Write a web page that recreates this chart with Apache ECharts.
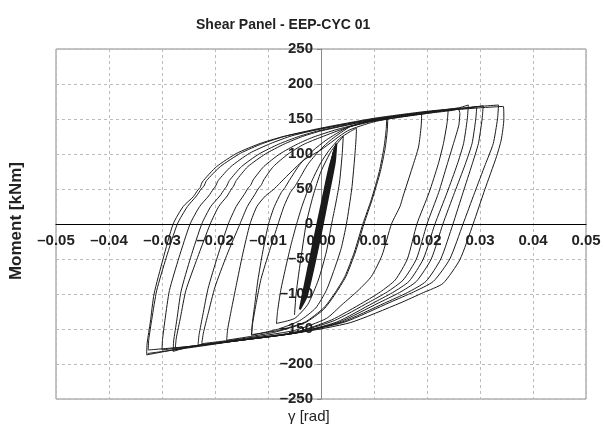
<!DOCTYPE html>
<html>
<head>
<meta charset="utf-8">
<title>Shear Panel - EEP-CYC 01</title>
<script src="https://cdn.jsdelivr.net/npm/echarts@6/dist/echarts.min.js"></script>
<style>
    html, body { margin: 0; padding: 0; background: #fff; }
    #chart { width: 604px; height: 432px; }
</style>
</head>
<body>
<div id="chart"></div>
<script>
// gamma [rad], moment [kNm], one array per cycle
const elastic1 = [[-0.0030,-100],[-0.0018,-55],[-0.0006,-12],[0.0006,35],[0.0017,75],[0.0024,102],[0.0020,80],[0.0009,38],[-0.0003,-10],[-0.0015,-55],[-0.0027,-98],[-0.0030,-100]]
const elastic2 = [[-0.0036,-112],[-0.0022,-62],[-0.0010,-18],[0.0003,30],[0.0016,78],[0.0027,110],[0.0023,82],[0.0012,40],[0.0000,-8],[-0.0013,-55],[-0.0028,-100],[-0.0036,-112]]
const elastic3 = [[-0.0040,-122],[-0.0026,-70],[-0.0013,-22],[0.0001,28],[0.0015,78],[0.0029,115],[0.0026,88],[0.0015,45],[0.0002,-5],[-0.0011,-52],[-0.0027,-103],[-0.0040,-122]]
const elastic4 = [[-0.0033,-106],[-0.0021,-60],[-0.0009,-16],[0.0004,32],[0.0014,68],[0.0025,106],[0.0018,70],[0.0007,30],[-0.0005,-14],[-0.0018,-62],[-0.0029,-100],[-0.0033,-106]]
const cycle01 = [[-0.0050,-130],[-0.0047,-100],[-0.0040,-60],[-0.0028,0],[-0.0015,40],[0.0000,75],[0.0020,105],[0.0042,125],
    [0.0040,100],[0.0035,60],[0.0028,30],[0.0020,0],[0.0010,-40],[-0.0005,-80],[-0.0025,-115],[-0.0050,-135],[-0.0084,-142]]
const cycle02 = [[-0.0084,-142],[-0.0082,-125],[-0.0076,-95],[-0.0066,-60],[-0.0056,-28],[-0.0046,0],[-0.0036,25],[-0.0025,48],[-0.0012,70],[0.0000,88],[0.0015,105],[0.0035,122],[0.0055,132],[0.0067,137],
    [0.0066,120],[0.0063,90],[0.0058,50],[0.0048,0],[0.0038,-35],[0.0025,-65],[0.0010,-95],[-0.0010,-120],[-0.0040,-138],[-0.0080,-150],[-0.0131,-159]]
const cycle03 = [[-0.0131,-159],[-0.0130,-145],[-0.0125,-115],[-0.0119,-80],[-0.0110,-40],[-0.0099,0],[-0.0088,25],[-0.0075,45],[-0.0068,52],[-0.0060,62],[-0.0040,85],[-0.0015,105],[0.0010,120],[0.0050,138],[0.0090,146],[0.0124,151],
    [0.0123,135],[0.0119,110],[0.0110,75],[0.0095,35],[0.0079,0],[0.0063,-40],[0.0045,-75],[0.0025,-100],[0.0005,-120],[-0.0030,-140],[-0.0080,-152],[-0.0131,-158]]
const cycle04 = [[-0.0131,-158],[-0.0129,-142],[-0.0122,-112],[-0.0113,-78],[-0.0097,-38],[-0.0081,0],[-0.0070,25],[-0.0058,45],[-0.0050,53],[-0.0042,63],[-0.0025,85],[-0.0003,105],[0.0020,121],[0.0055,139],[0.0092,147],[0.0126,150],
    [0.0125,133],[0.0121,108],[0.0112,75],[0.0097,36],[0.0081,0],[0.0065,-40],[0.0047,-75],[0.0027,-100],[0.0005,-122],[-0.0030,-141],[-0.0090,-155],[-0.0178,-166]]
const cycle05 = [[-0.0178,-166],[-0.0176,-150],[-0.0169,-122],[-0.0160,-88],[-0.0148,-44],[-0.0134,0],[-0.0121,25],[-0.0105,40],[-0.0090,49],[-0.0078,58],[-0.0065,68],[-0.0033,91],[0.0000,106],[0.0050,133],[0.0100,146],[0.0150,153],[0.0190,158],
    [0.0189,140],[0.0184,110],[0.0172,80],[0.0155,40],[0.0149,25],[0.0133,0],[0.0115,-45],[0.0095,-75],[0.0070,-95],[0.0040,-115],[0.0010,-135],[-0.0050,-152],[-0.0150,-164],[-0.0225,-171]]
const cycle06 = [[-0.0225,-171],[-0.0222,-156],[-0.0213,-128],[-0.0200,-90],[-0.0178,-45],[-0.0153,0],[-0.0139,25],[-0.0125,42],[-0.0117,52],[-0.0113,55],[-0.0108,63],[-0.0090,82],[-0.0062,100],[-0.0032,114],[0.0000,124],[0.0050,138],[0.0100,147],[0.0200,158],[0.0240,163],
    [0.0238,145],[0.0231,115],[0.0221,85],[0.0204,45],[0.0181,0],[0.0163,-50],[0.0140,-80],[0.0112,-97],[0.0080,-112],[0.0020,-137],[-0.0050,-155],[-0.0150,-165],[-0.0232,-173]]
const cycle07 = [[-0.0232,-173],[-0.0230,-158],[-0.0223,-130],[-0.0213,-92],[-0.0195,-46],[-0.0175,0],[-0.0160,25],[-0.0145,42],[-0.0137,52],[-0.0133,55],[-0.0128,63],[-0.0108,82],[-0.0078,100],[-0.0045,114],[-0.0015,124],[0.0030,135],[0.0100,148],[0.0200,158],[0.0245,162],[0.0259,164],
    [0.0262,158],[0.0260,141],[0.0250,115],[0.0238,85],[0.0222,45],[0.0200,0],[0.0180,-50],[0.0155,-80],[0.0125,-97],[0.0090,-112],[0.0025,-138],[-0.0050,-155],[-0.0150,-165],[-0.0275,-178]]
const cycle08 = [[-0.0275,-178],[-0.0273,-163],[-0.0265,-133],[-0.0255,-95],[-0.0233,-48],[-0.0209,0],[-0.0193,25],[-0.0177,40],[-0.0169,50],[-0.0165,54],[-0.0160,62],[-0.0138,82],[-0.0105,100],[-0.0070,114],[-0.0035,125],[0.0000,133],[0.0100,149],[0.0200,160],[0.0260,166],[0.0278,170],
    [0.0276,150],[0.0269,115],[0.0257,85],[0.0238,45],[0.0215,0],[0.0193,-50],[0.0166,-82],[0.0135,-98],[0.0098,-113],[0.0030,-140],[-0.0050,-156],[-0.0150,-166],[-0.0250,-176],[-0.0279,-182]]
const cycle09 = [[-0.0279,-182],[-0.0278,-167],[-0.0272,-137],[-0.0264,-96],[-0.0246,-48],[-0.0225,0],[-0.0208,25],[-0.0191,40],[-0.0182,50],[-0.0178,54],[-0.0173,62],[-0.0150,82],[-0.0117,100],[-0.0080,114],[-0.0042,125],[0.0000,134],[0.0100,149],[0.0200,159],[0.0270,165],[0.0294,168],
    [0.0292,150],[0.0285,115],[0.0272,85],[0.0252,45],[0.0230,0],[0.0208,-50],[0.0180,-82],[0.0148,-98],[0.0108,-113],[0.0035,-140],[-0.0050,-156],[-0.0150,-166],[-0.0250,-175],[-0.0300,-180]]
const cycle10 = [[-0.0300,-180],[-0.0299,-165],[-0.0294,-135],[-0.0286,-95],[-0.0268,-48],[-0.0247,0],[-0.0229,25],[-0.0212,40],[-0.0203,50],[-0.0199,54],[-0.0194,62],[-0.0170,82],[-0.0135,101],[-0.0095,115],[-0.0055,126],[0.0000,136],[0.0100,150],[0.0200,160],[0.0280,166],[0.0306,169],
    [0.0304,150],[0.0297,115],[0.0285,85],[0.0268,45],[0.0249,0],[0.0226,-50],[0.0198,-82],[0.0163,-98],[0.0120,-113],[0.0040,-140],[-0.0050,-156],[-0.0150,-166],[-0.0250,-175],[-0.0326,-180]]
const cycle11 = [[-0.0326,-180],[-0.0325,-165],[-0.0319,-135],[-0.0310,-95],[-0.0292,-48],[-0.0271,0],[-0.0252,25],[-0.0235,40],[-0.0226,50],[-0.0221,54],[-0.0216,62],[-0.0190,82],[-0.0152,101],[-0.0110,115],[-0.0065,126],[0.0000,137],[0.0100,151],[0.0200,161],[0.0300,168],[0.0335,170],
    [0.0333,150],[0.0325,115],[0.0310,85],[0.0290,45],[0.0268,0],[0.0243,-50],[0.0212,-82],[0.0175,-97],[0.0130,-112],[0.0045,-140],[-0.0050,-156],[-0.0150,-166],[-0.0250,-176],[-0.0329,-187]]
const cycle12 = [[-0.0329,-187],[-0.0328,-170],[-0.0322,-140],[-0.0315,-100],[-0.0298,-50],[-0.0279,0],[-0.0260,25],[-0.0241,39],[-0.0232,49],[-0.0228,52],[-0.0224,60],[-0.0197,82],[-0.0159,101],[-0.0115,115],[-0.0071,125],[0.0000,136],[0.0100,150],[0.0200,160],[0.0300,166],[0.0344,168],
    [0.0345,150],[0.0340,120],[0.0331,96],[0.0309,49],[0.0287,0],[0.0262,-51],[0.0230,-85],[0.0193,-98],[0.0149,-113],[0.0055,-141],[-0.0040,-155],[-0.0150,-166],[-0.0250,-177],[-0.0327,-185]]

const elastic = [elastic1, elastic2, elastic3, elastic4]
const cycles = [cycle01, cycle02, cycle03, cycle04, cycle05, cycle06, cycle07, cycle08, cycle09, cycle10, cycle11, cycle12]

const font = "'Liberation Sans', Arial, sans-serif"
const dash = v => (v < 0 ? '\u2013' : '')

const chart = echarts.init(document.getElementById('chart'))
chart.setOption({
    animation: false,
    title: {
        text: 'Shear Panel - EEP-CYC 01',
        left: 191,
        top: 13,
        textStyle: { fontFamily: font, fontSize: 14, fontWeight: 'bold', color: '#222' }
    },
    graphic: [
        {
            type: 'text', left: 8, top: 162, rotation: Math.PI / 2,
            style: { text: 'Moment [kNm]', font: 'bold 17px ' + font, fill: '#222' }
        },
        {
            type: 'text', left: 288, top: 409,
            style: { text: '\u03b3 [rad]', font: '15px ' + font, fill: '#222' }
        }
    ],
    grid: { left: 56, right: 18, top: 49, bottom: 33, show: true, borderColor: '#888', borderWidth: 1 },
    xAxis: {
        type: 'value', min: -0.05, max: 0.05, interval: 0.01,
        axisLine: { onZero: false, lineStyle: { color: '#000', width: 1 } },
        offset: -175,
        axisTick: { show: false },
        axisLabel: {
            margin: 9, color: '#222', fontFamily: font, fontSize: 15, fontWeight: 'bold',
            formatter: v => dash(v) + Math.abs(v).toFixed(2)
        },
        splitLine: { lineStyle: { color: '#bbb', type: [3, 3] } }
    },
    yAxis: {
        type: 'value', min: -250, max: 250, interval: 50,
        axisLine: { onZero: false, lineStyle: { color: '#888', width: 1 } },
        offset: -265,
        axisTick: { show: true, length: 4, lineStyle: { color: '#888' } },
        axisLabel: {
            margin: 8, color: '#222', fontFamily: font, fontSize: 15, fontWeight: 'bold',
            formatter: v => dash(v) + Math.abs(v)
        },
        splitLine: { lineStyle: { color: '#bbb', type: [3, 3] } }
    },
    series: [
        ...elastic.map(c => ({
            type: 'line', data: c, showSymbol: false, smooth: 0.2,
            lineStyle: { color: '#1a1a1a', width: 2 }, z: 3
        })),
        ...cycles.map(c => ({
            type: 'line', data: c, showSymbol: false, smooth: 0.2,
            lineStyle: { color: '#1a1a1a', width: 1 }, z: 3
        }))
    ]
})
</script>
</body>
</html>
